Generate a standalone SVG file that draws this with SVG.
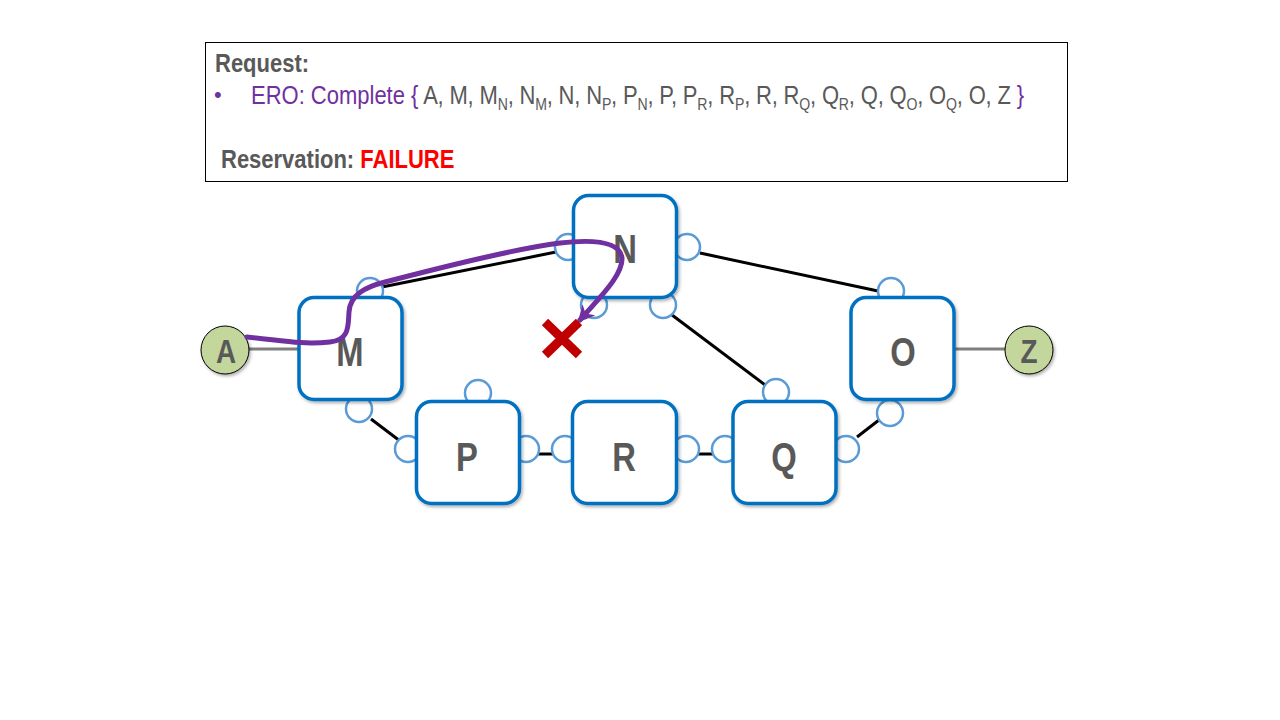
<svg xmlns="http://www.w3.org/2000/svg" width="1280" height="720" viewBox="0 0 1280 720">
<defs>
<style>
.t{font-family:"Liberation Sans",Arial,sans-serif;}
.gray{fill:#595959;}
.pur{fill:#7030A0;}
.node{fill:#fff;stroke:#0070C0;stroke-width:3.5;}
.port{fill:#fff;stroke:#5B9BD5;stroke-width:2.5;}
.link{stroke:#000;stroke-width:3;fill:none;}
.glink{stroke:#7F7F7F;stroke-width:3;fill:none;}
.lbl{font-family:"Liberation Sans",Arial,sans-serif;font-weight:bold;font-size:40px;fill:#595959;text-anchor:middle;}
.end{fill:#C3D69B;stroke:#000;stroke-width:1;}
</style>
<filter id="sh" x="-20%" y="-20%" width="140%" height="140%">
<feDropShadow dx="1.5" dy="2" stdDeviation="1.5" flood-color="#000" flood-opacity="0.3"/>
</filter>
<marker id="arr" viewBox="0 0 10 10" refX="8" refY="5" markerWidth="3.4" markerHeight="3.4" orient="auto">
<path d="M0,0 L10,5 L0,10 L3,5 Z" fill="#7030A0"/>
</marker>
</defs>
<rect width="1280" height="720" fill="#fff"/>

<g id="request-box">
<rect x="205.5" y="42.5" width="862" height="139" fill="#fff" stroke="#000" stroke-width="1"/>
<g transform="translate(215,72) scale(0.88,1)"><text class="t gray" font-size="25" font-weight="bold">Request:</text></g>
<text class="t pur" x="214" y="102" font-size="22">•</text>
<g transform="translate(251,104) scale(0.88,1)"><text class="t" font-size="25"><tspan class="pur">ERO: Complete {</tspan><tspan class="gray" letter-spacing="-0.2"> A, M, M<tspan font-size="16" dy="6">N</tspan><tspan dy="-6">, N</tspan><tspan font-size="16" dy="6">M</tspan><tspan dy="-6">, N, N</tspan><tspan font-size="16" dy="6">P</tspan><tspan dy="-6">, P</tspan><tspan font-size="16" dy="6">N</tspan><tspan dy="-6">, P, P</tspan><tspan font-size="16" dy="6">R</tspan><tspan dy="-6">, R</tspan><tspan font-size="16" dy="6">P</tspan><tspan dy="-6">, R, R</tspan><tspan font-size="16" dy="6">Q</tspan><tspan dy="-6">, Q</tspan><tspan font-size="16" dy="6">R</tspan><tspan dy="-6">, Q, Q</tspan><tspan font-size="16" dy="6">O</tspan><tspan dy="-6">, O</tspan><tspan font-size="16" dy="6">Q</tspan><tspan dy="-6">, O, Z </tspan></tspan><tspan class="pur">}</tspan></text></g>
<g transform="translate(221,168) scale(0.88,1)"><text class="t" font-size="25" font-weight="bold"><tspan class="gray">Reservation: </tspan><tspan fill="#FF0000">FAILURE</tspan></text></g>
</g>

<g id="connectors">
<line class="glink" x1="248" y1="349" x2="300" y2="349"/>
<line class="glink" x1="954" y1="349" x2="1006" y2="349"/>
<line class="link" x1="382" y1="287" x2="556" y2="252"/>
<line class="link" x1="700" y1="253" x2="878" y2="291"/>
<line class="link" x1="672" y1="315" x2="765" y2="385"/>
<line class="link" x1="371" y1="419" x2="400" y2="441"/>
<line class="link" x1="538" y1="454" x2="553" y2="454"/>
<line class="link" x1="697" y1="454" x2="713" y2="454"/>
<line class="link" x1="857" y1="437" x2="879" y2="420"/>
</g>

<g id="ports">
<circle class="port" cx="370" cy="291" r="13"/>
<circle class="port" cx="359" cy="409" r="13"/>
<circle class="port" cx="568" cy="247" r="13"/>
<circle class="port" cx="687" cy="247" r="13"/>
<circle class="port" cx="594" cy="305" r="13"/>
<circle class="port" cx="663" cy="305" r="13"/>
<circle class="port" cx="891" cy="291" r="13"/>
<circle class="port" cx="890" cy="413" r="13"/>
<circle class="port" cx="478" cy="393" r="13"/>
<circle class="port" cx="408" cy="449" r="13"/>
<circle class="port" cx="526" cy="449" r="13"/>
<circle class="port" cx="565" cy="449" r="13"/>
<circle class="port" cx="686" cy="449" r="13"/>
<circle class="port" cx="776" cy="392" r="13"/>
<circle class="port" cx="725" cy="449" r="13"/>
<circle class="port" cx="846" cy="449" r="13"/>
</g>

<g id="node-N"><rect class="node" filter="url(#sh)" x="573.5" y="195.5" width="103" height="102" rx="15"/><text class="lbl" transform="translate(625,263) scale(0.82,1)">N</text></g>
<g id="node-M"><rect class="node" filter="url(#sh)" x="299" y="297.5" width="103" height="102" rx="15"/><text class="lbl" transform="translate(350,366) scale(0.82,1)">M</text></g>
<g id="node-O"><rect class="node" filter="url(#sh)" x="851" y="297.5" width="103" height="102" rx="15"/><text class="lbl" transform="translate(903,366) scale(0.82,1)">O</text></g>
<g id="node-P"><rect class="node" filter="url(#sh)" x="416.5" y="401.5" width="103" height="102" rx="15"/><text class="lbl" transform="translate(467,471) scale(0.82,1)">P</text></g>
<g id="node-R"><rect class="node" filter="url(#sh)" x="572.5" y="401.5" width="104" height="102" rx="15"/><text class="lbl" transform="translate(624,471) scale(0.82,1)">R</text></g>
<g id="node-Q"><rect class="node" filter="url(#sh)" x="733" y="401.5" width="103" height="102" rx="15"/><text class="lbl" transform="translate(784,471) scale(0.82,1)">Q</text></g>

<g id="node-A"><circle class="end" filter="url(#sh)" cx="225" cy="350" r="24"/><text class="lbl" transform="translate(226,363) scale(0.82,1)" style="font-size:34px">A</text></g>
<g id="node-Z"><circle class="end" filter="url(#sh)" cx="1029" cy="350" r="24"/><text class="lbl" transform="translate(1029,363) scale(0.82,1)" style="font-size:34px">Z</text></g>

<g id="path-ero">
<path d="M247,337 C280,340 300,345 330,342 C350,340 348,325 349,312 C350,295 365,287 385,282 C450,265 520,248 560,243 C595,239 620,242 622,258 C623,275 600,297 580,320" fill="none" stroke="#7030A0" stroke-width="5" stroke-linecap="round" marker-end="url(#arr)"/>
</g>

<g id="fail-x">
<path d="M545,322 L579,355 M579,322 L545,355" stroke="#C00000" stroke-width="9"/>
</g>
</svg>
